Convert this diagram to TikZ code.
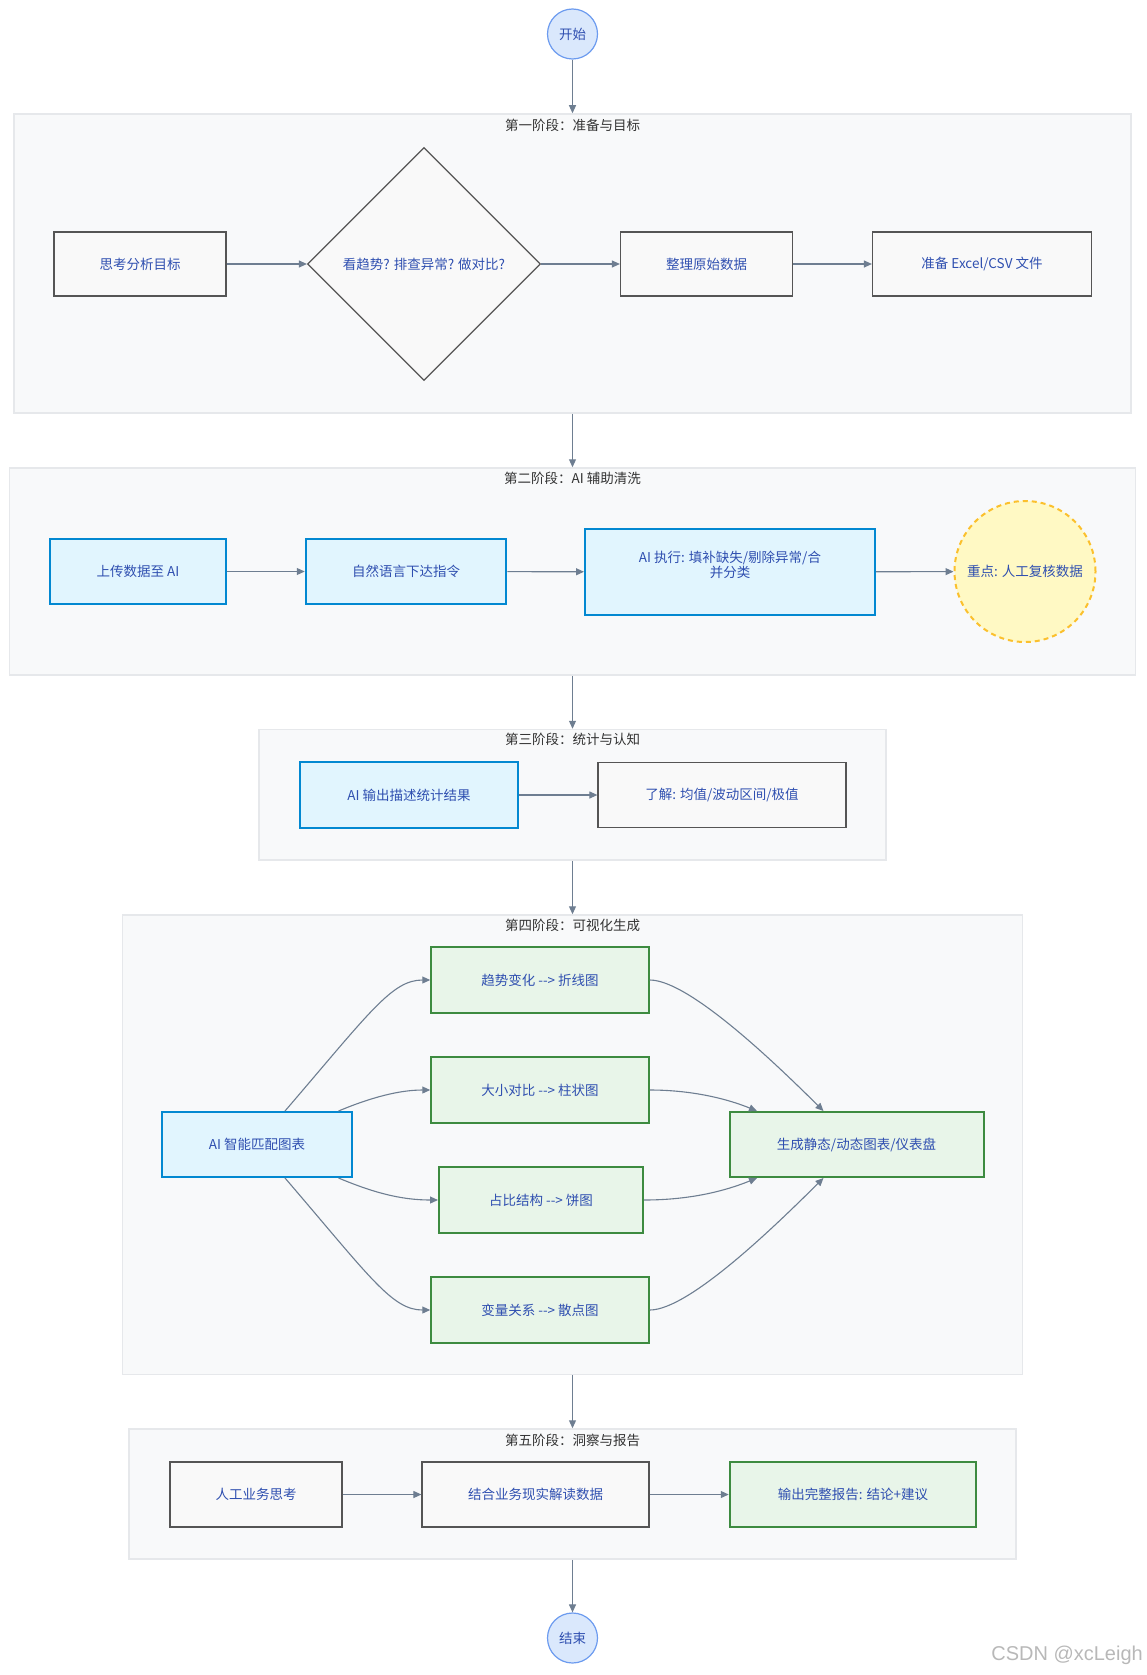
\documentclass[tikz,border=0pt]{standalone}
\usepackage{fontspec}
\setmainfont{Noto Sans CJK SC}
\newfontfamily\wmfont{Liberation Sans}
\usetikzlibrary{arrows.meta,shapes.geometric,calc}
\definecolor{stagefill}{HTML}{F8F9FA}
\definecolor{stageline}{HTML}{E6E8EB}
\definecolor{nodefill}{HTML}{F9F9F9}
\definecolor{nodeline}{HTML}{555555}
\definecolor{bluefill}{HTML}{E1F5FE}
\definecolor{blueline}{HTML}{0288D1}
\definecolor{greenfill}{HTML}{E8F5E9}
\definecolor{greenline}{HTML}{3D8B40}
\definecolor{yelfill}{HTML}{FFF9C4}
\definecolor{yelline}{HTML}{FBC02D}
\definecolor{termfill}{HTML}{DAE8FC}
\definecolor{termline}{HTML}{6C9BEF}
\definecolor{txtblue}{HTML}{2F4FB0}
\definecolor{edgecol}{HTML}{6E7E91}
\definecolor{titlecol}{HTML}{333333}
\newcommand{\darrow}{-\kern0pt-\kern0pt>}
\begin{document}
\begin{tikzpicture}[x=1pt,y=-1pt,
  font=\fontsize{13.5}{17}\selectfont,
  stage/.style={draw=stageline, fill=stagefill, line width=1.5pt, rectangle, inner sep=0pt},
  stitle/.style={text=titlecol, inner sep=0pt},
  plain/.style={rectangle, draw=nodeline, fill=nodefill, line width=1.2pt, text=txtblue, minimum height=64, inner sep=0pt},
  bluebox/.style={plain, draw=blueline, fill=bluefill, line width=2pt},
  greenbox/.style={plain, draw=greenline, fill=greenfill, line width=2pt},
  term/.style={circle, draw=termline, fill=termfill, line width=1.2pt, text=txtblue, minimum size=50, inner sep=0pt},
  focus/.style={circle, draw=yelline, fill=yelfill, dash pattern=on 5pt off 4pt, line width=2pt, minimum size=141, inner sep=0pt, text=txtblue},
  edge/.style={draw=edgecol, line width=1.1pt, -{Triangle[length=8pt,width=7pt]}}
]
\useasboundingbox (0,0) rectangle (1146,1675);

% stage containers
\node[stage, minimum width=1117, minimum height=299] (S1) at (572.5,263.5) {};
\node[stage, minimum width=1126, minimum height=207] (S2) at (572.5,571.5) {};
\node[stage, minimum width=627, minimum height=130.5] (S3) at (572.5,794.75) {};
\node[stage, minimum width=900, minimum height=459.5] (S4) at (572.5,1144.75) {};
\node[stage, minimum width=887, minimum height=130] (S5) at (572.5,1494) {};

\node[stitle] (T1) at (572.5,125) {第一阶段：准备与目标};
\node[stitle] (T2) at (572.5,478) {第二阶段：AI 辅助清洗};
\node[stitle] (T3) at (572.5,739) {第三阶段：统计与认知};
\node[stitle] (T4) at (572.5,925) {第四阶段：可视化生成};
\node[stitle] (T5) at (572.5,1440) {第五阶段：洞察与报告};

% start / end
\node[term] (start) at (572.5,34) {开始};
\node[term] (end) at (572.5,1638) {结束};

% stage 1
\node[plain, minimum width=172] (n1) at (140,264) {思考分析目标};
\node[diamond, draw=nodeline, fill=nodefill, line width=1.2pt, minimum width=233, minimum height=233, inner sep=0pt] (d) at (424,264) {};
\node[text=txtblue, inner sep=0pt] (dt) at (d) {看趋势? 排查异常? 做对比?};
\node[plain, minimum width=172] (n2) at (706.5,264) {整理原始数据};
\node[plain, minimum width=219] (n3) at (982,264) {准备 Excel/CSV 文件};

% stage 2
\node[bluebox, minimum width=176, minimum height=65] (m1) at (138,571.5) {上传数据至 AI};
\node[bluebox, minimum width=200.5, minimum height=65] (m2) at (406,571.5) {自然语言下达指令};
\node[bluebox, minimum width=290, minimum height=86] (m3) at (730,572) {};
\node[text=txtblue, align=center, inner sep=0pt, font=\fontsize{13.5}{15.5}\selectfont] (m3t) at (730,565) {AI 执行: 填补缺失/剔除异常/合\\并分类};
\node[focus] (m4) at (1025,571.5) {重点: 人工复核数据};

% stage 3
\node[bluebox, minimum width=218, minimum height=65.5] (p1) at (409,795) {AI 输出描述统计结果};
\node[plain, minimum width=248, minimum height=65.5] (p2) at (722,795) {了解: 均值/波动区间/极值};

% stage 4
\node[bluebox, minimum width=190.5, minimum height=65] (qa) at (257,1144.5) {AI 智能匹配图表};
\node[greenbox, minimum width=217.5, minimum height=65.5] (q1) at (540,980) {趋势变化 \darrow{} 折线图};
\node[greenbox, minimum width=217.5, minimum height=65.5] (q2) at (540,1090) {大小对比 \darrow{} 柱状图};
\node[greenbox, minimum width=204, minimum height=65.5] (q3) at (541,1200) {占比结构 \darrow{} 饼图};
\node[greenbox, minimum width=217.5, minimum height=65.5] (q4) at (540,1310) {变量关系 \darrow{} 散点图};
\node[greenbox, minimum width=254, minimum height=65] (qz) at (856.5,1144.5) {生成静态/动态图表/仪表盘};

% stage 5
\node[plain, minimum width=172, minimum height=65] (r1) at (256,1494.5) {人工业务思考};
\node[plain, minimum width=227, minimum height=65] (r2) at (535.5,1494.5) {结合业务现实解读数据};
\node[greenbox, minimum width=246.5, minimum height=65] (r3) at (853,1494.5) {输出完整报告: 结论+建议};

% watermark
\node[anchor=east, inner sep=0pt, text=black!28, font=\wmfont\fontsize{20}{22}\selectfont] (wm) at (1143,1655) {CSDN @xcLeigh};

% main vertical flow
\draw[edge] (start) -- (S1.north);
\draw[edge] (S1.south) -- (S2.north);
\draw[edge] (S2.south) -- (S3.north);
\draw[edge] (S3.south) -- (S4.north);
\draw[edge] (S4.south) -- (S5.north);
\draw[edge] (S5.south) -- (end);

% stage 1 edges
\draw[edge] (n1) -- (d.west);
\draw[edge] (d.east) -- (n2);
\draw[edge] (n2) -- (n3);

% stage 2 edges
\draw[edge] (m1) -- (m2);
\draw[edge] (m2) -- (m3);
\draw[edge] (m3) -- (m4);

% stage 3 edge
\draw[edge] (p1) -- (p2);

% stage 4 edges
\coordinate (qaT1) at ([xshift=28]qa.north);
\coordinate (qaT2) at ([xshift=81.5]qa.north);
\coordinate (qaB1) at ([xshift=28]qa.south);
\coordinate (qaB2) at ([xshift=81.5]qa.south);
\coordinate (qzT1) at ([xshift=-99.5]qz.north);
\coordinate (qzT2) at ([xshift=-33]qz.north);
\coordinate (qzB1) at ([xshift=-99.5]qz.south);
\coordinate (qzB2) at ([xshift=-33]qz.south);

\draw[edge] (qaT1) .. controls (370,1012) and (392,980) .. (q1.west);
\draw[edge] (qaT2) .. controls (372,1097) and (400,1090) .. (q2.west);
\draw[edge] (qaB2) .. controls (372,1192) and (400,1200) .. (q3.west);
\draw[edge] (qaB1) .. controls (370,1277) and (392,1310) .. (q4.west);

\draw[edge] (q1.east) .. controls (690,980) and (780,1068) .. (qzT2);
\draw[edge] (q2.east) .. controls (690,1090) and (725,1098) .. (qzT1);
\draw[edge] (q3.east) .. controls (690,1200) and (725,1191) .. (qzB1);
\draw[edge] (q4.east) .. controls (690,1310) and (780,1221) .. (qzB2);

% stage 5 edges
\draw[edge] (r1) -- (r2);
\draw[edge] (r2) -- (r3);
\end{tikzpicture}
\end{document}
